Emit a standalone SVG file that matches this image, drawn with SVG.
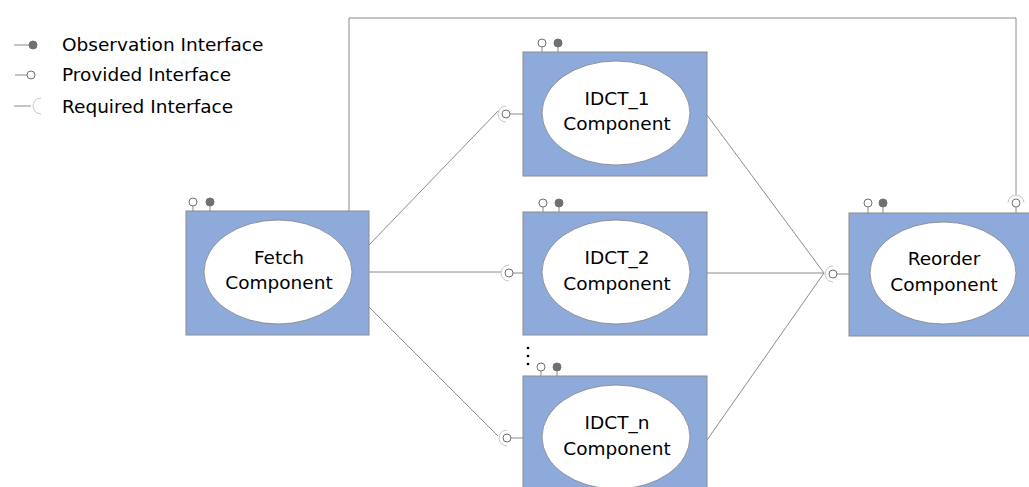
<svg xmlns="http://www.w3.org/2000/svg" width="1029" height="487" viewBox="0 0 1029 487">
<defs>
<style>
.box{fill:#8eaadb;stroke:#8c8c8c;stroke-width:1}
.ell{fill:#fff;stroke:#7f7f7f;stroke-width:0.8}
.t{font-family:"DejaVu Sans",sans-serif;font-size:18.5px;fill:#000;text-anchor:middle}
.lt{font-family:"DejaVu Sans",sans-serif;font-size:18.5px;fill:#000}
.ln{stroke:#8c8c8c;stroke-width:1;fill:none}
.prov{fill:#fff;stroke:#707070;stroke-width:1}
.obs{fill:#707070;stroke:#707070;stroke-width:1}
.req{fill:none;stroke:#c8c8c8;stroke-width:1}
</style>
</defs>
<rect width="1029" height="487" fill="#fff"/>
<g id="legend">
<line class="ln" x1="14" y1="45" x2="29" y2="45"/><circle class="obs" cx="33" cy="45" r="4"/>
<text class="lt" x="62" y="51">Observation Interface</text>
<line class="ln" x1="15" y1="75" x2="27" y2="75"/><circle class="prov" cx="31" cy="75" r="4"/>
<text class="lt" x="62" y="81">Provided Interface</text>
<line class="ln" x1="14" y1="106" x2="31" y2="106"/><path class="req" d="M41 98 A8 8 0 0 0 41 114"/>
<text class="lt" x="62" y="113">Required Interface</text>
</g>
<g id="connectors">
<polyline class="ln" points="349,211 349,18 1016,18 1016,195"/>
<line class="ln" x1="369" y1="245" x2="498" y2="111"/>
<line class="ln" x1="369" y1="272" x2="501" y2="272"/>
<line class="ln" x1="369" y1="307" x2="498" y2="436"/>
<line class="ln" x1="707" y1="115" x2="824" y2="273"/>
<line class="ln" x1="707" y1="273" x2="824" y2="273"/>
<line class="ln" x1="707" y1="440" x2="824" y2="273"/>
</g>
<g id="fetch">
<rect class="box" x="186" y="211" width="183" height="124"/>
<ellipse class="ell" cx="278" cy="272" rx="74" ry="52"/>
<text class="t" x="279" y="264">Fetch</text>
<text class="t" x="279" y="289">Component</text>
<line class="ln" x1="193" y1="206" x2="193" y2="211"/><circle class="prov" cx="193" cy="202" r="4"/>
<line class="ln" x1="210" y1="206" x2="210" y2="211"/><circle class="obs" cx="210" cy="202" r="4"/>
</g>
<g id="idct1">
<rect class="box" x="523" y="52" width="184" height="124"/>
<ellipse class="ell" cx="616" cy="113" rx="74" ry="52"/>
<text class="t" x="617" y="105">IDCT_1</text>
<text class="t" x="617" y="130">Component</text>
<line class="ln" x1="542" y1="47" x2="542" y2="52"/><circle class="prov" cx="542" cy="43" r="4"/>
<line class="ln" x1="558" y1="47" x2="558" y2="52"/><circle class="obs" cx="558" cy="43" r="4"/>
<line class="ln" x1="510" y1="114" x2="523" y2="114"/><circle class="prov" cx="506" cy="114" r="4"/>
<path class="req" d="M506 106 A8 8 0 0 0 506 122"/>
</g>
<g id="idct2">
<rect class="box" x="523" y="212" width="184" height="123"/>
<ellipse class="ell" cx="616" cy="272" rx="74" ry="52"/>
<text class="t" x="617" y="264">IDCT_2</text>
<text class="t" x="617" y="290">Component</text>
<line class="ln" x1="543" y1="207" x2="543" y2="212"/><circle class="prov" cx="543" cy="203" r="4"/>
<line class="ln" x1="559" y1="207" x2="559" y2="212"/><circle class="obs" cx="559" cy="203" r="4"/>
<line class="ln" x1="513" y1="273" x2="523" y2="273"/><circle class="prov" cx="509" cy="273" r="4"/>
<path class="req" d="M509 265 A8 8 0 0 0 509 281"/>
</g>
<g id="idctn">
<circle cx="528" cy="348" r="1.3" fill="#000"/>
<circle cx="528" cy="356" r="1.3" fill="#000"/>
<circle cx="528" cy="364" r="1.3" fill="#000"/>
<rect class="box" x="523" y="376" width="184" height="120"/>
<ellipse class="ell" cx="616" cy="437" rx="74" ry="52"/>
<text class="t" x="617" y="429">IDCT_n</text>
<text class="t" x="617" y="455">Component</text>
<line class="ln" x1="541" y1="371" x2="541" y2="376"/><circle class="prov" cx="541" cy="367" r="4"/>
<line class="ln" x1="557" y1="371" x2="557" y2="376"/><circle class="obs" cx="557" cy="367" r="4"/>
<line class="ln" x1="511" y1="438" x2="523" y2="438"/><circle class="prov" cx="507" cy="438" r="4"/>
<path class="req" d="M507 430 A8 8 0 0 0 507 446"/>
</g>
<g id="reorder">
<rect class="box" x="849" y="213" width="190" height="123"/>
<ellipse class="ell" cx="943" cy="273" rx="73" ry="51"/>
<text class="t" x="944" y="265">Reorder</text>
<text class="t" x="944" y="291">Component</text>
<line class="ln" x1="868" y1="207" x2="868" y2="213"/><circle class="prov" cx="868" cy="203" r="4"/>
<line class="ln" x1="883" y1="207" x2="883" y2="213"/><circle class="obs" cx="883" cy="203" r="4"/>
<line class="ln" x1="837" y1="274" x2="849" y2="274"/><circle class="prov" cx="833" cy="274" r="4"/>
<path class="req" d="M833 266 A8 8 0 0 0 833 282"/>
<line class="ln" x1="1016" y1="207" x2="1016" y2="213"/><circle class="prov" cx="1016" cy="203" r="4"/>
<path class="req" d="M1008 203 A8 8 0 0 1 1024 203"/>
</g>
</svg>
